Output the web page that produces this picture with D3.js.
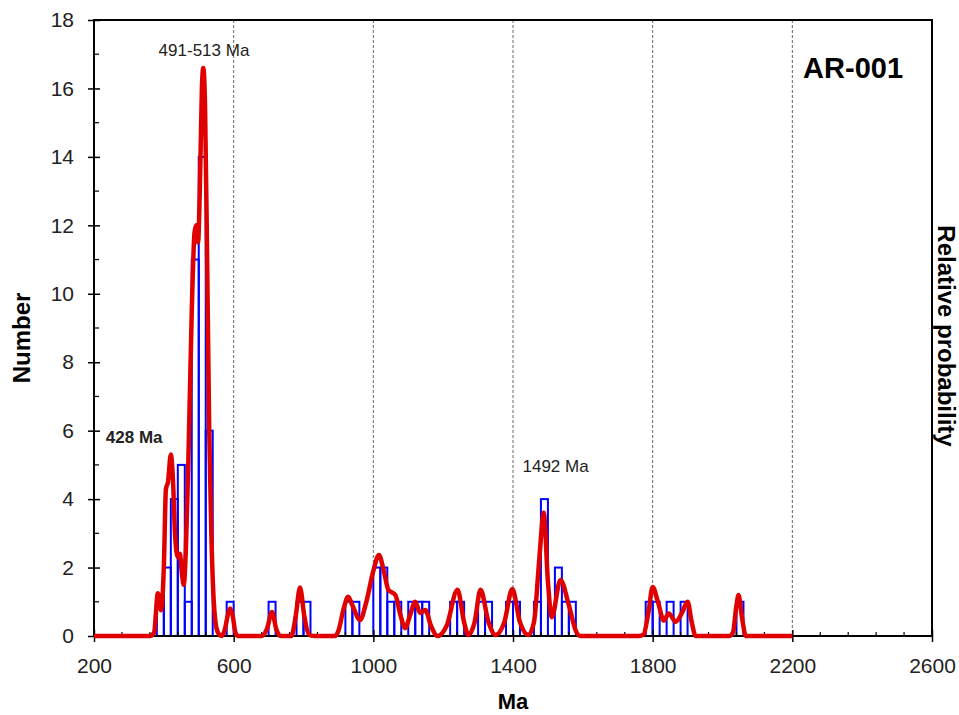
<!DOCTYPE html>
<html><head><meta charset="utf-8">
<script src="https://cdn.jsdelivr.net/npm/d3@7"></script>
<style>body{margin:0;background:#fff;} text{font-family:"Liberation Sans",Arial,sans-serif;}</style>
</head><body>
<svg id="chart" width="959" height="715"></svg>
<script>
// Histogram: bin start ages (Ma), bin width 20 Ma, counts
const binWidth = 20;
const binStarts = [380,400,420,440,460,480,500,520,580,700,780,800,920,940,1000,1020,1040,1060,1100,1120,1140,1220,1240,1300,1320,1380,1400,1460,1480,1520,1540,1560,1780,1800,1840,1880,2040];
const binCounts = [1,2,4,5,1,11,14,6,1,1,1,1,1,1,2,2,1,1,1,1,1,1,1,1,1,1,1,1,4,2,1,1,1,1,1,1,1];

// Relative probability curve (in left-axis units)
const probAges = [200,360,372,383,392,400,406,412,420,426,432,440,446,452,457,463,470,480,488,493,498,503,509,513,518,524,530,536,542,548,555,565,575,583,590,597,605,612,
  680,695,710,722,735,765,778,790,802,815,830,890,900,915,928,940,962,980,1000,1016,1030,1043,1063,1078,1091,1105,1120,1134,1149,1165,1184,1210,1241,1260,1272,1290,1307,1330,1350,1375,1398,1420,1444,1460,1475,1488,1500,1511,1536,1560,1580,1593,
  1760,1774,1788,1800,1815,1832,1846,1866,1885,1900,1912,1923,2020,2030,2040,2046,2055,2067,2200];
const probVals = [0,0,0.1,1.25,0.75,2.0,4.3,4.5,5.3,4.6,3.0,2.3,2.4,1.8,1.5,2.5,5,9.5,11.8,12.0,11.5,13,16.0,16.6,15.5,11,6,3,1.2,0.4,0.1,0,0.2,0.6,0.8,0.6,0.1,0,
  0,0.2,0.7,0.2,0,0,0.6,1.42,0.6,0.05,0,0,0.15,0.8,1.15,0.9,0.47,1.0,1.9,2.37,1.9,1.35,1.2,0.6,0.23,0.6,1.0,0.67,0.76,0.3,0,0.3,1.35,0.4,0.03,0.4,1.35,0.4,0.03,0.4,1.37,0.4,0.03,0.4,2.2,3.6,1.6,0.55,1.64,0.9,0.15,0,
  0,0.05,0.7,1.43,1.0,0.45,0.66,0.42,0.7,1.0,0.4,0,0,0.1,0.9,1.2,0.6,0,0];

const xTicks = [200,600,1000,1400,1800,2200,2600];
const yTicks = [0,2,4,6,8,10,12,14,16,18];
const gridAges = [600,1000,1400,1800,2200];
const annotations = [
  {text:"491-513 Ma", age:515, val:16.95, bold:false, anchor:"middle"},
  {text:"428 Ma", age:234, val:5.64, bold:true, anchor:"start"},
  {text:"1492 Ma", age:1522, val:4.79, bold:false, anchor:"middle"}
];
const sampleName = "AR-001";

const svg = d3.select("#chart");
const m = {l:94, t:20, r:27, b:79};
const W = 959 - m.l - m.r, H = 715 - m.t - m.b;
const g = svg.append("g").attr("transform",`translate(${m.l},${m.t})`);
const x = d3.scaleLinear().domain([200,2600]).range([0,W]);
const y = d3.scaleLinear().domain([0,18]).range([H,0]);

// grid
g.selectAll(".grid").data(gridAges).enter().append("line")
  .attr("x1",d=>x(d)).attr("x2",d=>x(d)).attr("y1",0).attr("y2",H)
  .attr("stroke","#666").attr("stroke-width",1).attr("stroke-dasharray","3,2");

// bars
const bins = binStarts.map((s,i)=>({s, c:binCounts[i]}));
g.selectAll(".bar").data(bins).enter().append("rect")
  .attr("x",d=>x(d.s)).attr("width",d=>x(d.s+binWidth)-x(d.s))
  .attr("y",d=>y(d.c)).attr("height",d=>y(0)-y(d.c))
  .attr("fill","none").attr("stroke","#0000ff").attr("stroke-width",2);

// frame
g.append("rect").attr("x",0).attr("y",0).attr("width",W).attr("height",H)
  .attr("fill","none").attr("stroke","#000").attr("stroke-width",2);

// axes ticks
const xAxis = d3.axisBottom(x).tickValues(xTicks).tickSize(6).tickPadding(16).tickFormat(d3.format("d"));
const gx = g.append("g").attr("transform",`translate(0,${H})`).call(xAxis);
gx.select(".domain").remove();
gx.selectAll(".tick line").attr("y1",-6).attr("y2",6).attr("stroke-width",1.5);
gx.selectAll("text").attr("font-size",21).attr("fill","#222").style("font-family","Liberation Sans, Arial, sans-serif");
const xMinor = d3.range(200,2600,80).filter(v=>!xTicks.includes(v));
g.selectAll(".xminor").data(xMinor).enter().append("line")
  .attr("x1",d=>x(d)).attr("x2",d=>x(d)).attr("y1",H).attr("y2",H-4).attr("stroke","#000").attr("stroke-width",1.2);

const yAxis = d3.axisLeft(y).tickValues(yTicks).tickSize(6).tickPadding(14);
const gy = g.append("g").call(yAxis);
gy.select(".domain").remove();
gy.selectAll(".tick line").attr("x1",-6).attr("x2",6).attr("stroke-width",1.5);
gy.selectAll("text").attr("font-size",21).attr("fill","#222").style("font-family","Liberation Sans, Arial, sans-serif");
const yMinor = d3.range(1,18,2);
g.selectAll(".yminor").data(yMinor).enter().append("line")
  .attr("x1",0).attr("x2",5).attr("y1",d=>y(d)).attr("y2",d=>y(d)).attr("stroke","#000").attr("stroke-width",1.2);

// probability curve
const pts = probAges.map((a,i)=>[a,probVals[i]]);
g.append("path").datum(pts)
  .attr("d", d3.line().x(d=>x(d[0])).y(d=>y(d[1])).curve(d3.curveMonotoneX))
  .attr("fill","none").attr("stroke","#e00000").attr("stroke-width",4.5).attr("stroke-linejoin","round");

// annotations
g.selectAll(".ann").data(annotations).enter().append("text")
  .attr("x",d=>x(d.age)).attr("y",d=>y(d.val))
  .attr("text-anchor",d=>d.anchor)
  .attr("font-size",17).attr("font-weight",d=>d.bold?"bold":"normal").attr("fill","#222")
  .text(d=>d.text);

g.append("text").attr("x",x(2374)).attr("y",y(16.3)).attr("text-anchor","middle")
  .attr("font-size",29).attr("font-weight","bold").text(sampleName);

// axis titles
svg.append("text").attr("x",m.l+W/2).attr("y",709).attr("text-anchor","middle")
  .attr("font-size",22).attr("font-weight","bold").text("Ma");
svg.append("text").attr("transform",`translate(30,${m.t+H/2+10}) rotate(-90)`).attr("text-anchor","middle")
  .attr("font-size",24).attr("font-weight","bold").text("Number");
svg.append("text").attr("transform",`translate(938,${m.t+H/2+8}) rotate(90)`).attr("text-anchor","middle")
  .attr("font-size",24).attr("font-weight","bold").text("Relative probability");
</script>
</body></html>
